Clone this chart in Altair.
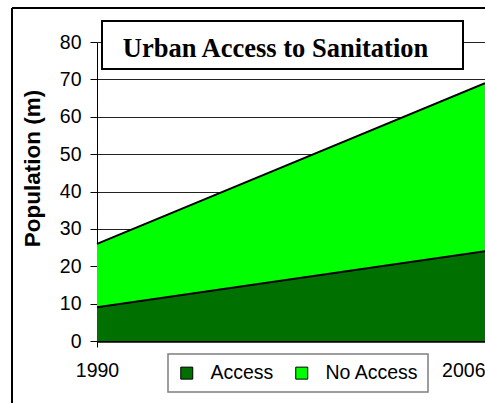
import altair as alt
import pandas as pd

# Urban population with and without sanitation access (millions)
years = [1990, 2006]
access = [9, 24]
no_access = [17, 45]
series = ["Access", "No Access"]
colors = ["#007000", "#00FF00"]
y_ticks = [0, 10, 20, 30, 40, 50, 60, 70, 80]
title_text = "Urban Access to Sanitation"

rows = []
for i, yr in enumerate(years):
    rows.append({"year": yr, "series": series[0], "value": access[i], "rank": 0})
    rows.append({"year": yr, "series": series[1], "value": no_access[i], "rank": 1})
df = pd.DataFrame(rows)

W, H = 388, 299
SANS = "Liberation Sans"

x_scale = alt.Scale(domain=[1990, 2006], nice=False, zero=False)
y_scale = alt.Scale(domain=[0, 80], nice=False)

x_axis = alt.Axis(
    values=years, format="d", title=None, grid=False,
    domainColor="black", domainWidth=2.5, tickColor="black", tickSize=6,
    labelFont=SANS, labelFontSize=19.5, labelColor="black", labelPadding=14,
    labelFlush=False,
    labelAlign={"condition": {"test": "datum.value == 2006", "value": "right"}, "value": "center"},
)
y_axis = alt.Axis(
    values=y_ticks, title="Population (m)",
    domainColor="black", domainWidth=1, tickColor="black", tickSize=7,
    gridColor="#222222", gridWidth=1, gridOpacity=1,
    labelFont=SANS, labelFontSize=19.5, labelColor="black", labelPadding=9,
    titleFont=SANS, titleFontSize=22.5, titleFontWeight="bold", titleColor="black",
    titleX=-58, titleY=126, titleAngle=270, titleBaseline="alphabetic", titleAlign="center",
)

areas = alt.Chart(df).mark_area(opacity=1).encode(
    x=alt.X("year:Q", scale=x_scale, axis=x_axis),
    y=alt.Y("value:Q", stack="zero", scale=y_scale, axis=y_axis),
    color=alt.Color(
        "series:N",
        scale=alt.Scale(domain=series, range=colors),
        legend=alt.Legend(
            orient="none", legendX=71, legendY=312, direction="horizontal", title=None,
            symbolType="square", symbolSize=144, symbolStrokeColor="black", symbolStrokeWidth=1,
            symbolOpacity=1, labelFont=SANS, labelFontSize=19.5, labelColor="black",
            labelOffset=14, columnPadding=18, padding=9, labelLimit=0,
            fillColor="white", strokeColor="#7f7f7f",
        ),
    ),
    order=alt.Order("rank:Q"),
)

# black outline along the top of each stacked band
outlines = alt.Chart(df).transform_stack(
    stack="value", groupby=["year"], as_=["v0", "v1"], sort=[alt.SortField("rank")]
).mark_line(color="black", strokeWidth=2).encode(
    x=alt.X("year:Q", scale=x_scale, axis=x_axis),
    y=alt.Y("v1:Q", scale=y_scale, axis=y_axis),
    detail="series:N",
)

one = pd.DataFrame({"t": [title_text]})

# outer chart frame: left and top edges (the rest runs past the page)
frame_left = alt.Chart(one).mark_rule(color="black", strokeWidth=2).encode(
    x=alt.value(-85), y=alt.value(-34), y2=alt.value(361)
)
frame_top = alt.Chart(one).mark_rule(color="black", strokeWidth=2).encode(
    x=alt.value(-85), x2=alt.value(388), y=alt.value(-34)
)

# boxed title
title_box = alt.Chart(one).mark_rect(fill="white", stroke="black", strokeWidth=2).encode(
    x=alt.value(5), x2=alt.value(366), y=alt.value(-21), y2=alt.value(27)
)
title = alt.Chart(one).mark_text(
    font="Liberation Serif", fontSize=26.5, fontWeight="bold", color="black",
    align="center", baseline="alphabetic",
).encode(x=alt.value(178.5), y=alt.value(15), text="t:N")

chart = alt.layer(frame_left, frame_top, areas, outlines, title_box, title).properties(
    width=W, height=H,
    padding={"left": 97, "top": 42, "right": 0, "bottom": 62},
    autosize=alt.AutoSizeParams(type="none"),
    background="white",
).configure_view(stroke=None).configure_legend(strokeWidth=1.5)

chart.save("out.html", embed_options={"renderer": "svg", "actions": False})
